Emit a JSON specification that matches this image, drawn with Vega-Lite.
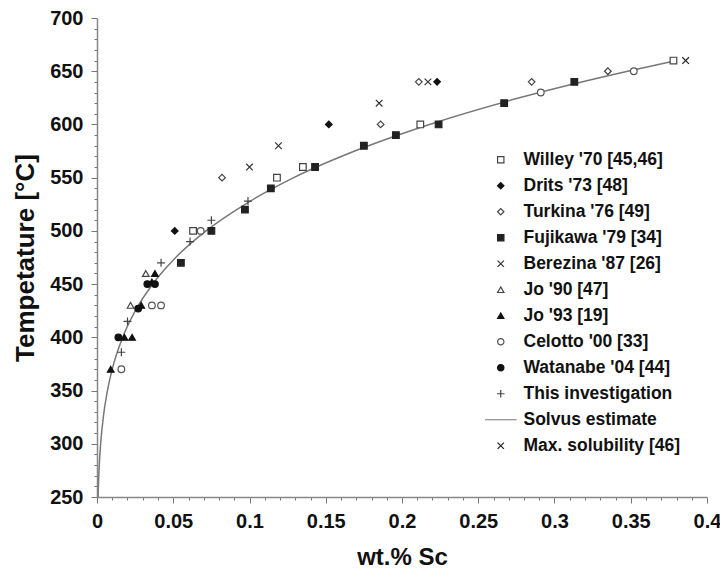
{
  "$schema": "https://vega.github.io/schema/vega-lite/v6.json",
  "autosize": "none",
  "width": 610,
  "height": 479,
  "padding": {"left": 97, "top": 18, "right": 13, "bottom": 75},
  "background": "white",
  "config": {
    "view": {"stroke": null},
    "font": "Liberation Sans",
    "axis": {"grid": false}
  },
  "datasets": {
    "solvus": [
      {"x": 0.00068, "t": 250}, {"x": 0.00089, "t": 260}, {"x": 0.00131, "t": 275}, {"x": 0.00168, "t": 285},
      {"x": 0.00239, "t": 300}, {"x": 0.00414, "t": 325}, {"x": 0.00686, "t": 350}, {"x": 0.00998, "t": 370},
      {"x": 0.01683, "t": 400}, {"x": 0.0251, "t": 425}, {"x": 0.0365, "t": 450}, {"x": 0.0516, "t": 475},
      {"x": 0.0715, "t": 500}, {"x": 0.0971, "t": 525}, {"x": 0.129, "t": 550}, {"x": 0.169, "t": 575},
      {"x": 0.218, "t": 600}, {"x": 0.277, "t": 625}, {"x": 0.348, "t": 650}, {"x": 0.38, "t": 660}
    ],
    "pts": [
      {"series": "Willey '70 [45,46]", "x": 0.063, "t": 500},
      {"series": "Willey '70 [45,46]", "x": 0.118, "t": 550},
      {"series": "Willey '70 [45,46]", "x": 0.135, "t": 560},
      {"series": "Willey '70 [45,46]", "x": 0.212, "t": 600},
      {"series": "Willey '70 [45,46]", "x": 0.378, "t": 660},
      {"series": "Drits '73 [48]", "x": 0.051, "t": 500},
      {"series": "Drits '73 [48]", "x": 0.152, "t": 600},
      {"series": "Drits '73 [48]", "x": 0.223, "t": 640},
      {"series": "Turkina '76 [49]", "x": 0.082, "t": 550},
      {"series": "Turkina '76 [49]", "x": 0.186, "t": 600},
      {"series": "Turkina '76 [49]", "x": 0.211, "t": 640},
      {"series": "Turkina '76 [49]", "x": 0.285, "t": 640},
      {"series": "Turkina '76 [49]", "x": 0.335, "t": 650},
      {"series": "Fujikawa '79 [34]", "x": 0.055, "t": 470},
      {"series": "Fujikawa '79 [34]", "x": 0.075, "t": 500},
      {"series": "Fujikawa '79 [34]", "x": 0.097, "t": 520},
      {"series": "Fujikawa '79 [34]", "x": 0.114, "t": 540},
      {"series": "Fujikawa '79 [34]", "x": 0.143, "t": 560},
      {"series": "Fujikawa '79 [34]", "x": 0.175, "t": 580},
      {"series": "Fujikawa '79 [34]", "x": 0.196, "t": 590},
      {"series": "Fujikawa '79 [34]", "x": 0.224, "t": 600},
      {"series": "Fujikawa '79 [34]", "x": 0.267, "t": 620},
      {"series": "Fujikawa '79 [34]", "x": 0.313, "t": 640},
      {"series": "Berezina '87 [26]", "x": 0.1, "t": 560},
      {"series": "Berezina '87 [26]", "x": 0.119, "t": 580},
      {"series": "Berezina '87 [26]", "x": 0.185, "t": 620},
      {"series": "Berezina '87 [26]", "x": 0.217, "t": 640},
      {"series": "Jo '90 [47]", "x": 0.022, "t": 430},
      {"series": "Jo '90 [47]", "x": 0.032, "t": 460},
      {"series": "Jo '93 [19]", "x": 0.009, "t": 370},
      {"series": "Jo '93 [19]", "x": 0.018, "t": 400},
      {"series": "Jo '93 [19]", "x": 0.023, "t": 400},
      {"series": "Jo '93 [19]", "x": 0.029, "t": 430},
      {"series": "Jo '93 [19]", "x": 0.036, "t": 452},
      {"series": "Jo '93 [19]", "x": 0.038, "t": 460},
      {"series": "Celotto '00 [33]", "x": 0.016, "t": 370},
      {"series": "Celotto '00 [33]", "x": 0.036, "t": 430},
      {"series": "Celotto '00 [33]", "x": 0.042, "t": 430},
      {"series": "Celotto '00 [33]", "x": 0.068, "t": 500},
      {"series": "Celotto '00 [33]", "x": 0.291, "t": 630},
      {"series": "Celotto '00 [33]", "x": 0.352, "t": 650},
      {"series": "Watanabe '04 [44]", "x": 0.014, "t": 400},
      {"series": "Watanabe '04 [44]", "x": 0.027, "t": 427},
      {"series": "Watanabe '04 [44]", "x": 0.033, "t": 450},
      {"series": "Watanabe '04 [44]", "x": 0.038, "t": 450},
      {"series": "This investigation", "x": 0.016, "t": 386},
      {"series": "This investigation", "x": 0.02, "t": 415},
      {"series": "This investigation", "x": 0.042, "t": 470},
      {"series": "This investigation", "x": 0.061, "t": 490},
      {"series": "This investigation", "x": 0.075, "t": 510},
      {"series": "This investigation", "x": 0.099, "t": 528},
      {"series": "Max. solubility [46]", "x": 0.386, "t": 660}
    ]
  },
  "layer": [
    {
      "data": {"name": "solvus"},
      "mark": {"type": "line", "color": "#777777", "strokeWidth": 1.5, "interpolate": "monotone"},
      "encoding": {
        "x": {
          "field": "x", "type": "quantitative",
          "scale": {"domain": [0, 0.4], "nice": false, "zero": false},
          "axis": {
            "orient": "bottom",
            "tickCount": 200,
            "values": [0,0.01,0.02,0.03,0.04,0.05,0.06,0.07,0.08,0.09,0.1,0.11,0.12,0.13,0.14,0.15,0.16,0.17,0.18,0.19,0.2,0.21,0.22,0.23,0.24,0.25,0.26,0.27,0.28,0.29,0.3,0.31,0.32,0.33,0.34,0.35,0.36,0.37,0.38,0.39,0.4],
            "labelExpr": "round(datum.value*100) % 5 === 0 ? format(datum.value, '~g') : ''",
            "title": "wt.% Sc",
            "titleFontSize": 24, "titleFontWeight": "bold", "titleColor": "#111111", "titlePadding": 14,
            "labelFontSize": 20, "labelFontWeight": "bold", "labelColor": "#111111", "labelPadding": 8,
            "labelFlush": false, "labelOverlap": false, "labelBound": false,
            "domainColor": "#888888", "domainWidth": 1.5,
            "ticks": true, "tickColor": "#777777", "tickWidth": 1,
            "tickSize": {"condition": {"test": "round(datum.value*100) % 5 === 0", "value": 6}, "value": 3}
          }
        },
        "y": {
          "field": "t", "type": "quantitative",
          "scale": {"domain": [250, 700], "nice": false, "zero": false},
          "axis": {
            "orient": "left",
            "tickCount": 200,
            "values": [250,260,270,280,290,300,310,320,330,340,350,360,370,380,390,400,410,420,430,440,450,460,470,480,490,500,510,520,530,540,550,560,570,580,590,600,610,620,630,640,650,660,670,680,690,700],
            "labelExpr": "datum.value % 50 === 0 ? datum.label : ''",
            "title": "Tempetature [°C]",
            "titleFontSize": 26, "titleFontWeight": "bold", "titleColor": "#111111", "titlePadding": 11,
            "labelFontSize": 20, "labelFontWeight": "bold", "labelColor": "#111111", "labelPadding": 8,
            "labelFlush": false, "labelOverlap": false, "labelBound": false,
            "domainColor": "#888888", "domainWidth": 1.5,
            "ticks": true, "tickColor": "#777777", "tickWidth": 1,
            "tickSize": {"condition": {"test": "datum.value % 50 === 0", "value": 6}, "value": 3}
          }
        }
      }
    },
    {
      "data": {"name": "pts"},
      "mark": {"type": "point", "opacity": 1, "size": 44, "strokeWidth": 1.2},
      "encoding": {
        "x": {"field": "x", "type": "quantitative"},
        "y": {"field": "t", "type": "quantitative"},
        "shape": {
          "field": "series", "type": "nominal",
          "scale": {
            "domain": ["Willey '70 [45,46]", "Drits '73 [48]", "Turkina '76 [49]", "Fujikawa '79 [34]", "Berezina '87 [26]", "Jo '90 [47]", "Jo '93 [19]", "Celotto '00 [33]", "Watanabe '04 [44]", "This investigation", "Solvus estimate", "Max. solubility [46]"],
            "range": ["square", "diamond", "diamond", "square", "M-1,-1L1,1M1,-1L-1,1", "triangle-up", "triangle-up", "circle", "circle", "M-1.2,0L1.2,0M0,-1.2L0,1.2", "M-5,0L5,0", "M-1,-1L1,1M1,-1L-1,1"]
          },
          "legend": {
            "orient": "none", "legendX": 395, "legendY": 133,
            "title": null, "padding": 0,
            "labelFontSize": 17.5, "labelFontWeight": "bold", "labelColor": "#111111", "labelOffset": 14,
            "symbolSize": 40, "symbolStrokeWidth": 1.2, "rowPadding": 7
          }
        },
        "fill": {
          "field": "series", "type": "nominal",
          "scale": {
            "domain": ["Willey '70 [45,46]", "Drits '73 [48]", "Turkina '76 [49]", "Fujikawa '79 [34]", "Berezina '87 [26]", "Jo '90 [47]", "Jo '93 [19]", "Celotto '00 [33]", "Watanabe '04 [44]", "This investigation", "Solvus estimate", "Max. solubility [46]"],
            "range": ["#ffffff", "#111111", "#ffffff", "#222222", "#ffffff", "#ffffff", "#111111", "#ffffff", "#111111", "#ffffff", "#777777", "#ffffff"]
          },
          "legend": null
        },
        "stroke": {
          "field": "series", "type": "nominal",
          "scale": {
            "domain": ["Willey '70 [45,46]", "Drits '73 [48]", "Turkina '76 [49]", "Fujikawa '79 [34]", "Berezina '87 [26]", "Jo '90 [47]", "Jo '93 [19]", "Celotto '00 [33]", "Watanabe '04 [44]", "This investigation", "Solvus estimate", "Max. solubility [46]"],
            "range": ["#444444", "#111111", "#444444", "#222222", "#333333", "#444444", "#111111", "#555555", "#111111", "#444444", "#777777", "#222222"]
          },
          "legend": null
        }
      }
    }
  ]
}
